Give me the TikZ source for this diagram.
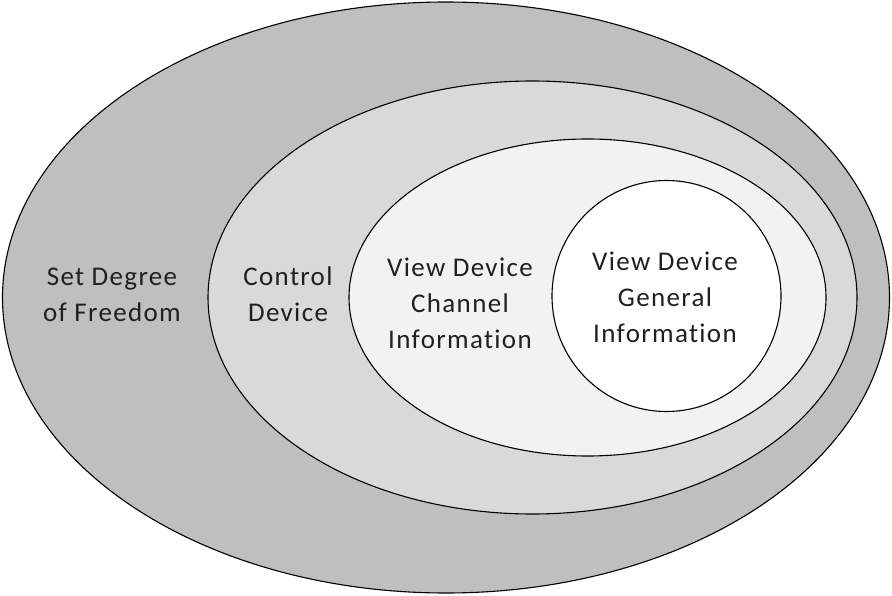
\documentclass[tikz,border=0pt]{standalone}
\usepackage{fontspec}
\setmainfont[LetterSpace=5,Ligatures=NoCommon]{Carlito}
\definecolor{ringA}{HTML}{BFBFBF}
\definecolor{ringB}{HTML}{D9D9D9}
\definecolor{ringC}{HTML}{F2F2F2}
\definecolor{txt}{HTML}{202020}
\begin{document}
\begin{tikzpicture}[x=1pt,y=-1pt,
    ring/.style={draw=black,line width=1.1pt},
    lbl/.style={align=center,text=txt,font=\fontsize{27}{36}\selectfont}]
    \useasboundingbox (0,0) rectangle (892,596);

    \filldraw[ring,fill=ringA] (446,297.5) ellipse (443.5 and 295.5);
    \filldraw[ring,fill=ringB] (532.5,297.5) ellipse (324.5 and 216.5);
    \filldraw[ring,fill=ringC] (587.5,297.5) ellipse (238.5 and 158.5);
    \filldraw[ring,fill=white] (666.5,296) ellipse (114.5 and 115.5);

    \node[lbl] (freedom) at (112,295) {Set Degree\\of Freedom};
    \node[lbl] (control) at (288,294) {Control\\Device};
    \node[lbl] (channel) at (460,303) {View Device\\Channel\\Information};
    \node[lbl] (general) at (665,297) {View Device\\General\\Information};
\end{tikzpicture}
\end{document}
